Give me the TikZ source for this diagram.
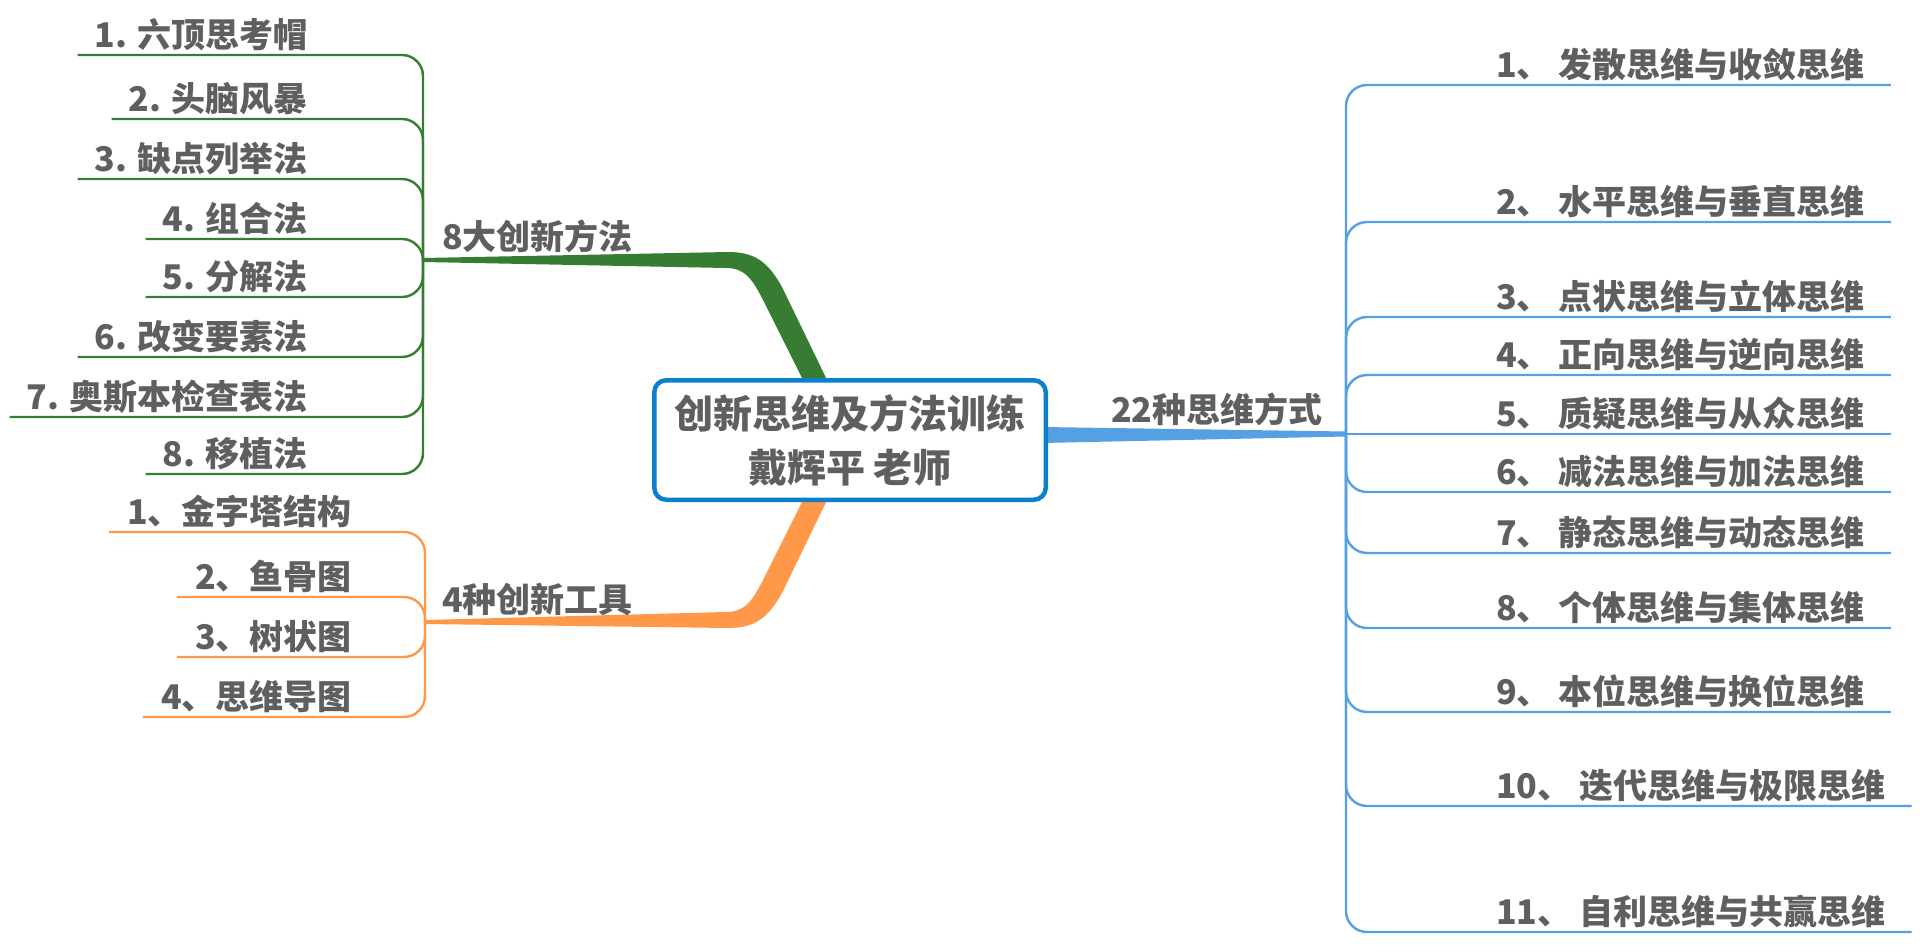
\documentclass[tikz,border=0pt]{standalone}
\usepackage{fontspec}
\setmainfont{Noto Sans CJK SC}
\usepackage{tikz}
\usetikzlibrary{positioning,calc,backgrounds}
\definecolor{ink}{RGB}{95,95,95}
\definecolor{leafgreen}{RGB}{54,125,51}
\definecolor{toolorange}{RGB}{255,152,72}
\definecolor{waysblue}{RGB}{84,160,226}
\definecolor{rootblue}{RGB}{12,128,204}
\tikzset{%
  root/.style={draw=rootblue, line width=4.5pt, fill=white, rounded corners=12pt,
    minimum width=391.5pt, minimum height=119.5pt, align=center, text=ink,
    font=\fontsize{39}{54}\selectfont\bfseries},% central topic
  branchlabel/.style={inner sep=0pt, text=ink, font=\fontsize{34}{40}\selectfont\bfseries},% main branch text
  leaf/.style={inner ysep=0pt, text depth=7pt, text=ink, anchor=south east,
    font=\fontsize{34}{40}\selectfont\bfseries},% sub topic on the left
  wayleaf/.style={leaf, inner xsep=26pt, anchor=south west},% sub topic on the right
  twig/.style={line width=2.4pt, rounded corners=21pt}% sub topic underline
}

\begin{document}
\begin{tikzpicture}[x=1pt, y=-1pt]
\useasboundingbox (0,0) rectangle (1920,952);

\node[root] (root) at (850,440) {创新思维及方法训练\\戴辉平 老师};

\coordinate (ghub) at (423,260);
\coordinate (ohub) at (425,622);
\coordinate (bhub) at (1346,434);

\node[branchlabel, anchor=base west] (methods) at (442,250) {8大创新方法};
\node[branchlabel, anchor=base west] (tools) at (442,612) {4种创新工具};
\node[branchlabel, anchor=base west] (ways) at (1111,422) {22种思维方式};

% thick branches behind the central topic
\begin{scope}[on background layer]
\fill[leafgreen] ($(ghub)+(0,-2)$) -- (728,252) .. controls (755,252) and (768,262) .. (782,287)
  -- ($(root.north)+(-21,6)$) -- ($(root.north)+(-45,6)$)
  -- (762,298) .. controls (752,279) and (745,268) .. (726,268) -- ($(ghub)+(0,2)$) -- cycle;
\fill[toolorange] ($(ohub)+(0,2)$) -- (728,628) .. controls (755,628) and (768,618) .. (782,593)
  -- ($(root.south)+(-21,-6)$) -- ($(root.south)+(-45,-6)$)
  -- (762,582) .. controls (752,601) and (745,612) .. (726,612) -- ($(ohub)+(0,-2)$) -- cycle;
\fill[waysblue] ($(root.east)+(-6,-13)$) -- ($(bhub)+(0,-2.5)$) -- ($(bhub)+(0,2.5)$)
  -- ($(root.east)+(-6,3)$) -- cycle;
\end{scope}

% 8 methods
\node[leaf, inner xsep=17pt] (g1) at (325,55) {1. 六顶思考帽};
\node[leaf, inner xsep=17pt] (g2) at (325,119) {2. 头脑风暴};
\node[leaf, inner xsep=17pt] (g3) at (325,179) {3. 缺点列举法};
\node[leaf, inner xsep=17pt] (g4) at (325,239) {4. 组合法};
\node[leaf, inner xsep=17pt] (g5) at (325,297) {5. 分解法};
\node[leaf, inner xsep=17pt] (g6) at (325,357) {6. 改变要素法};
\node[leaf, inner xsep=17pt] (g7) at (325,417) {7. 奥斯本检查表法};
\node[leaf, inner xsep=17pt] (g8) at (325,474) {8. 移植法};
\foreach \i in {1,...,8}
  \draw[twig, leafgreen] (g\i.south west) -- (g\i.south -| ghub) -- (ghub);

% 4 tools
\node[leaf, inner xsep=18pt] (o1) at (370,532) {1、金字塔结构};
\node[leaf, inner xsep=18pt] (o2) at (370,597) {2、鱼骨图};
\node[leaf, inner xsep=18pt] (o3) at (370,657) {3、树状图};
\node[leaf, inner xsep=18pt] (o4) at (370,717) {4、思维导图};
\foreach \i in {1,...,4}
  \draw[twig, toolorange] (o\i.south west) -- (o\i.south -| ohub) -- (ohub);

% 22 ways of thinking
\node[wayleaf] (b1) at (1470,85) {1、 发散思维与收敛思维};
\node[wayleaf] (b2) at (1470,222) {2、 水平思维与垂直思维};
\node[wayleaf] (b3) at (1470,317) {3、 点状思维与立体思维};
\node[wayleaf] (b4) at (1470,375) {4、 正向思维与逆向思维};
\node[wayleaf] (b5) at (1470,434) {5、 质疑思维与从众思维};
\node[wayleaf] (b6) at (1470,492) {6、 减法思维与加法思维};
\node[wayleaf] (b7) at (1470,553) {7、 静态思维与动态思维};
\node[wayleaf] (b8) at (1470,628) {8、 个体思维与集体思维};
\node[wayleaf] (b9) at (1470,712) {9、 本位思维与换位思维};
\node[wayleaf] (b10) at (1470,806) {10、 迭代思维与极限思维};
\node[wayleaf] (b11) at (1470,932) {11、 自利思维与共赢思维};
\foreach \i in {1,2,3,4,6,7,8,9,10,11}
  \draw[twig, waysblue] (bhub) -- (b\i.south -| bhub) -- (b\i.south east);
\draw[twig, waysblue] (bhub) -- (b5.south east);

\end{tikzpicture}
\end{document}
